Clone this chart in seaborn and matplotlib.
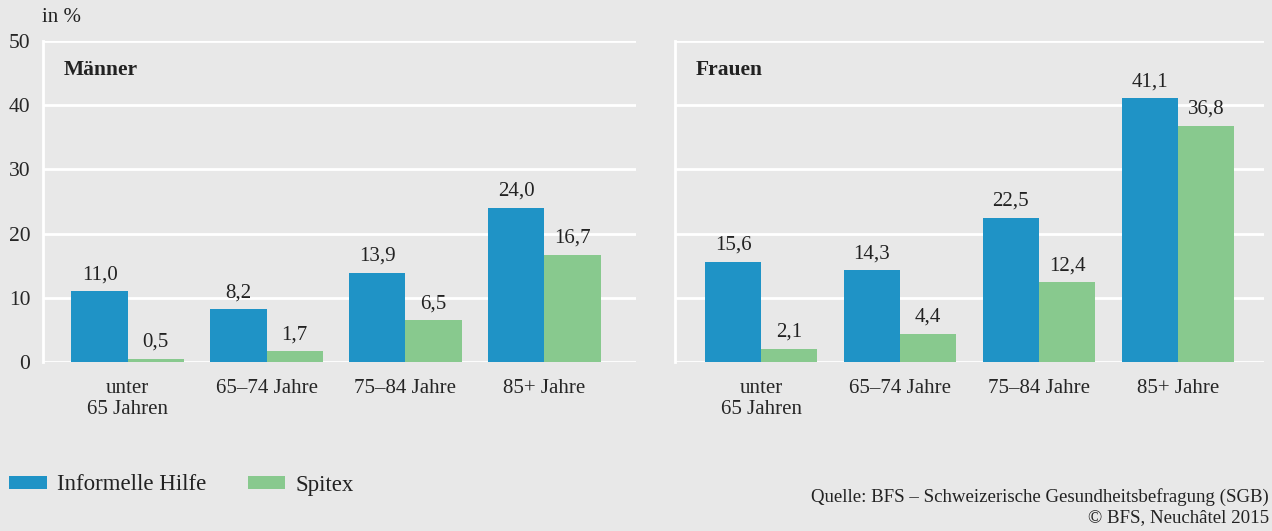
import matplotlib
matplotlib.use("Agg")
import matplotlib.pyplot as plt
import seaborn as sns
import pandas as pd
from matplotlib.patches import Patch

categories = ["unter\n65 Jahren", "65–74 Jahre", "75–84 Jahre", "85+ Jahre"]
series = ["Informelle Hilfe", "Spitex"]
men_informell = [11.0, 8.2, 13.9, 24.0]
men_spitex = [0.5, 1.7, 6.5, 16.7]
women_informell = [15.6, 14.3, 22.5, 41.1]
women_spitex = [2.1, 4.4, 12.4, 36.8]
yticks = [0, 10, 20, 30, 40, 50]

colors = ["#1f93c6", "#88c98e"]
bg = "#e8e8e8"

sns.set_theme(style="white")
plt.rcParams["font.family"] = ["Liberation Serif", "DejaVu Serif"]
plt.rcParams["text.color"] = "#222222"

fig = plt.figure(figsize=(12.72, 5.31), dpi=100, facecolor=bg)
ax1 = fig.add_axes([43/1272, 1-362/531, (636-43)/1272, (362-41)/531])
ax2 = fig.add_axes([675/1272, 1-362/531, (1264-675)/1272, (362-41)/531])

def make_df(inf, spx):
    rows = []
    for c, a, b in zip(categories, inf, spx):
        rows.append({"cat": c, "serie": series[0], "val": a})
        rows.append({"cat": c, "serie": series[1], "val": b})
    return pd.DataFrame(rows)

panels = [(ax1, men_informell, men_spitex, "Männer", (-0.61, 3.66)),
          (ax2, women_informell, women_spitex, "Frauen", (-0.62, 3.62))]

for ax, inf, spx, title, xl in panels:
    df = make_df(inf, spx)
    sns.barplot(data=df, x="cat", y="val", hue="serie", hue_order=series,
                order=categories, palette=colors, width=0.81, ax=ax,
                saturation=1, legend=False, linewidth=0, zorder=3)
    ax.set_facecolor(bg)
    ax.set_ylim(0, 50)
    ax.set_yticks(yticks)
    ax.set_xlim(*xl)
    ax.grid(axis="y", color="white", linewidth=2, zorder=0)
    ax.set_axisbelow(True)
    for s in ["top", "right", "bottom"]:
        ax.spines[s].set_visible(False)
    ax.spines["left"].set_color("white")
    ax.spines["left"].set_linewidth(2)
    ax.set_xlabel("")
    ax.set_ylabel("")
    ax.tick_params(axis="x", length=0, labelsize=15, pad=12)
    ax.tick_params(axis="y", length=0, labelsize=15.5, pad=9)
    for lab in ax.get_xticklabels():
        lab.set_linespacing(1.15)
    for cont, vals in zip(ax.containers, [inf, spx]):
        ax.bar_label(cont, labels=[f"{v:.1f}".replace(".", ",") for v in vals],
                     padding=5, fontsize=15, color="#222222")
    ax.text(0.035, 0.91, title, transform=ax.transAxes, fontsize=15.5,
            fontweight="bold", va="center", ha="left", color="#222222")

ax2.set_yticklabels([])

fig.text(42/1272, 1-17/531, "in %", fontsize=15, va="center", ha="left")

handles = [Patch(facecolor=colors[0], edgecolor="none"),
           Patch(facecolor=colors[1], edgecolor="none")]
fig.legend(handles, series, loc="center left", bbox_to_anchor=(9/1272, 1-485/531),
           ncol=2, frameon=False, fontsize=16.5, handlelength=1.65, handleheight=0.5,
           handletextpad=0.45, columnspacing=1.8, borderpad=0, borderaxespad=0)

fig.text(1269/1272, 1-497/531, "Quelle: BFS – Schweizerische Gesundheitsbefragung (SGB)",
         fontsize=13.6, ha="right", va="center")
fig.text(1269/1272, 1-518/531, "© BFS, Neuchâtel 2015",
         fontsize=13.6, ha="right", va="center")

fig.savefig("out.png", dpi=100, facecolor=bg)
